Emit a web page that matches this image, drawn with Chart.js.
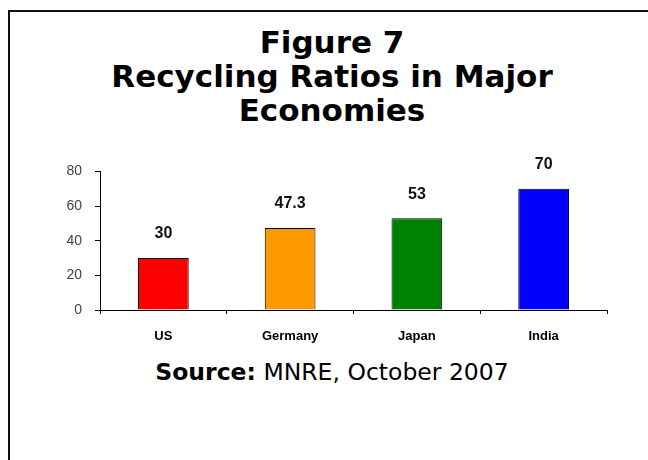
<!DOCTYPE html>
<html>
<head>
<meta charset="utf-8">
<script src="https://cdn.jsdelivr.net/npm/chart.js@4/dist/chart.umd.min.js"></script>
<style>
  html, body { margin: 0; padding: 0; background: #fff; width: 648px; height: 460px; overflow: hidden; }
  #frame { position: absolute; left: 8px; top: 10px; width: 700px; height: 500px;
           border-left: 2px solid #111; border-top: 2px solid #111; }
  #title { position: absolute; left: 9px; width: 646px; top: 25px; text-align: center;
           font: bold 31px "DejaVu Sans", sans-serif; line-height: 34px; color: #000; }
  #source { position: absolute; left: 9px; width: 646px; top: 358px; text-align: center;
            font: 23.5px "DejaVu Sans", sans-serif; line-height: 28px; color: #000; }
  #chart { position: absolute; left: 0; top: 150px; }
</style>
</head>
<body>
<div id="frame"></div>
<div id="title">Figure 7<br>Recycling Ratios in Major<br>Economies</div>
<canvas id="chart" width="648" height="200"></canvas>
<div id="source"><b>Source:</b> MNRE, October 2007</div>
<script>
  // values
  var countries = ['US', 'Germany', 'Japan', 'India'];
  var ratios = [30, 47.3, 53, 70];
  var barColors = ['#ff0000', '#ff9900', '#008000', '#0000ff'];
  var yTicks = [0, 20, 40, 60, 80];

  // value labels over each bar
  var barLabels = {
    id: 'barLabels',
    afterDatasetsDraw: function(chart) {
      var ctx = chart.ctx;
      var meta = chart.getDatasetMeta(0);
      ctx.save();
      ctx.font = 'bold 16px "Liberation Sans", Arial, sans-serif';
      ctx.fillStyle = '#111';
      ctx.textAlign = 'center';
      ctx.textBaseline = 'middle';
      meta.data.forEach(function(bar, i) {
        ctx.fillText(String(ratios[i]), bar.x, bar.y - 24);
      });
      ctx.restore();
    }
  };

  new Chart(document.getElementById('chart'), {
    type: 'bar',
    data: {
      labels: countries,
      datasets: [{
        data: ratios,
        backgroundColor: barColors,
        borderColor: '#000',
        borderWidth: 1,
        barPercentage: 0.4,
        categoryPercentage: 1
      }]
    },
    options: {
      responsive: false,
      animation: false,
      layout: { padding: { top: 15, right: 41, left: 0, bottom: 0 } },
      plugins: { legend: { display: false }, tooltip: { enabled: false } },
      scales: {
        y: {
          min: 0,
          max: 80,
          afterBuildTicks: function(scale) {
            scale.ticks = yTicks.map(function(v) { return { value: v }; });
          },
          afterFit: function(scale) { scale.width = 100; },
          ticks: {
            font: { family: '"Liberation Sans", Arial, sans-serif', size: 14 },
            color: '#444',
            padding: 13
          },
          grid: { drawOnChartArea: false, tickLength: 5, color: '#000' },
          border: { color: '#000', width: 1 }
        },
        x: {
          afterFit: function(scale) { scale.height = 40; },
          ticks: {
            font: { family: '"Liberation Sans", Arial, sans-serif', size: 13, weight: 'bold' },
            color: '#000',
            padding: 15
          },
          grid: { offset: true, drawOnChartArea: false, tickLength: 4, color: '#000' },
          border: { color: '#000', width: 1 }
        }
      }
    },
    plugins: [barLabels]
  });
</script>
</body>
</html>
